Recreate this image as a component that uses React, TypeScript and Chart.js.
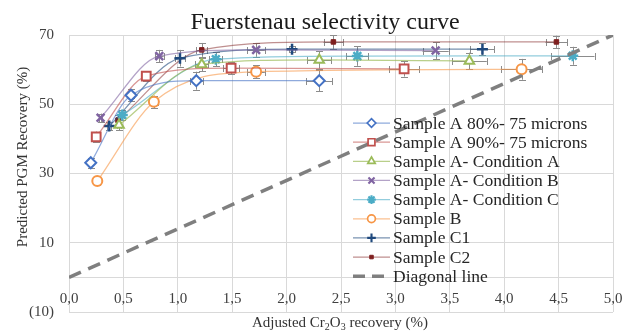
import React, { useEffect, useRef } from 'react';
import { Chart, registerables } from 'chart.js';
import { drawPoint } from 'chart.js/helpers';

Chart.register(...registerables);

// ---------- data ----------
const chartTitle = 'Fuerstenau selectivity curve';
const yAxisTitle = 'Predicted PGM Recovery (%)';
const xTicks = [0, 0.5, 1, 1.5, 2, 2.5, 3, 3.5, 4, 4.5, 5];
const yTicks = [-10, 10, 30, 50, 70];

const seriesNames = [
  'Sample A 80%- 75 microns',
  'Sample A 90%- 75 microns',
  'Sample A- Condition A',
  'Sample A- Condition B',
  'Sample A- Condition C',
  'Sample B',
  'Sample C1',
  'Sample C2',
];
const diagonalName = 'Diagonal line';

const a80X = [0.2, 0.57, 1.17, 2.3];
const a80Y = [33.1, 52.6, 56.8, 56.8];
const a80ErrX = [0.01, 0.03, 0.06, 0.12];
const a80ErrY = [1.5, 1.8, 2.6, 3.0];

const a90X = [0.25, 0.71, 1.49, 3.08];
const a90Y = [40.6, 58.1, 60.4, 60.2];
const a90ErrX = [0.01, 0.03, 0.07, 0.14];
const a90ErrY = [1.5, 1.5, 1.8, 2.2];

const condAX = [0.46, 1.22, 2.3, 3.68];
const condAY = [44.0, 61.5, 62.8, 62.5];
const condAErrX = [0.02, 0.06, 0.11, 0.16];
const condAErrY = [1.5, 2.0, 2.5, 2.4];

const condBX = [0.29, 0.83, 1.72, 3.37];
const condBY = [46.1, 63.9, 65.7, 65.5];
const condBErrX = [0.01, 0.04, 0.08, 0.12];
const condBErrY = [1.2, 1.8, 2.0, 2.4];

const condCX = [0.49, 1.35, 2.65, 4.63];
const condCY = [46.9, 63.0, 63.9, 64.0];
const condCErrX = [0.02, 0.06, 0.1, 0.2];
const condCErrY = [1.5, 2.0, 2.8, 2.6];

const sampleBX = [0.26, 0.78, 1.72, 4.16];
const sampleBY = [27.8, 50.7, 59.4, 60.1];
const sampleBErrX = [0.01, 0.04, 0.08, 0.19];
const sampleBErrY = [1.2, 1.8, 1.8, 3.0];

const c1X = [0.37, 1.02, 2.05, 3.8];
const c1Y = [43.7, 63.3, 65.9, 65.9];
const c1ErrX = [0.02, 0.05, 0.03, 0.11];
const c1ErrY = [1.2, 2.4, 0.8, 1.7];

const c2X = [0.45, 1.22, 2.43, 4.48];
const c2Y = [45.4, 65.7, 68.0, 68.0];
const c2ErrX = [0.02, 0.05, 0.09, 0.1];
const c2ErrY = [1.5, 2.0, 2.0, 1.8];

const diagonalX = [0, 5];
const diagonalY = [0, 70];

// ---------- styles ----------
const FONT = "'Liberation Serif', 'DejaVu Serif', serif";
const seriesStyle = [
  { color: '#4472C4', line: 'rgba(68,114,196,0.6)', style: 'rectRot', radius: 5.5, fill: '#FFFFFF', bw: 2 },
  { color: '#C0504D', line: 'rgba(192,80,77,0.6)', style: 'rect', radius: 6.2, fill: '#FFFFFF', bw: 2 },
  { color: '#9BBB59', line: 'rgba(155,187,89,0.7)', style: 'triangle', radius: 5.5, fill: '#FFFFFF', bw: 2 },
  { color: '#8064A2', line: 'rgba(128,100,162,0.6)', style: 'crossRot', radius: 5.5, fill: '#8064A2', bw: 2.5 },
  { color: '#4BACC6', line: 'rgba(75,172,198,0.6)', style: 'star', radius: 5.5, fill: '#4BACC6', bw: 2.5 },
  { color: '#F79646', line: 'rgba(247,150,70,0.6)', style: 'circle', radius: 5, fill: '#FFFFFF', bw: 2 },
  { color: '#1F497D', line: 'rgba(31,73,125,0.6)', style: 'cross', radius: 5.5, fill: '#1F497D', bw: 2.5 },
  { color: '#7F1F1F', line: 'rgba(127,31,31,0.5)', style: 'rect', radius: 3.2, fill: '#7F1F1F', bw: 1 },
];
const legendMarkerScale = 0.78;

const seriesData = [
  [a80X, a80Y, a80ErrX, a80ErrY],
  [a90X, a90Y, a90ErrX, a90ErrY],
  [condAX, condAY, condAErrX, condAErrY],
  [condBX, condBY, condBErrX, condBErrY],
  [condCX, condCY, condCErrX, condCErrY],
  [sampleBX, sampleBY, sampleBErrX, sampleBErrY],
  [c1X, c1Y, c1ErrX, c1ErrY],
  [c2X, c2Y, c2ErrX, c2ErrY],
];

const fmtNum = (v: number) => {
  if (v < 0) return '(' + Math.abs(v).toString() + ')';
  return v.toString();
};
const fmtX = (v: number) => v.toFixed(1).replace('.', ',');

const errorBarPlugin = {
  id: 'errorBars',
  beforeDatasetsDraw(chart: any) {
    const { ctx, chartArea, scales } = chart;
    const xs = scales.x;
    const ys = scales.y;
    ctx.save();
    ctx.beginPath();
    ctx.rect(chartArea.left, chartArea.top - 10, chartArea.right - chartArea.left + 10, chartArea.bottom - chartArea.top + 10);
    ctx.clip();
    ctx.strokeStyle = '#8C8C8C';
    ctx.lineWidth = 1;
    const cap = 3.5;
    chart.data.datasets.forEach((ds: any) => {
      if (!ds.errX) return;
      ds.data.forEach((p: any, i: number) => {
        const px = Math.round(xs.getPixelForValue(p.x)) + 0.5;
        const py = Math.round(ys.getPixelForValue(p.y)) + 0.5;
        const x1 = xs.getPixelForValue(p.x - ds.errX[i]);
        const x2 = xs.getPixelForValue(p.x + ds.errX[i]);
        const y1 = ys.getPixelForValue(p.y + ds.errY[i]);
        const y2 = ys.getPixelForValue(p.y - ds.errY[i]);
        ctx.beginPath();
        ctx.moveTo(x1, py); ctx.lineTo(x2, py);
        ctx.moveTo(Math.round(x1) + 0.5, py - cap); ctx.lineTo(Math.round(x1) + 0.5, py + cap);
        ctx.moveTo(Math.round(x2) + 0.5, py - cap); ctx.lineTo(Math.round(x2) + 0.5, py + cap);
        ctx.moveTo(px, y1); ctx.lineTo(px, y2);
        ctx.moveTo(px - cap, Math.round(y1) + 0.5); ctx.lineTo(px + cap, Math.round(y1) + 0.5);
        ctx.moveTo(px - cap, Math.round(y2) + 0.5); ctx.lineTo(px + cap, Math.round(y2) + 0.5);
        ctx.stroke();
      });
    });
    ctx.restore();
  },
};

const textPlugin = {
  id: 'texts',
  afterDraw(chart: any) {
    const { ctx } = chart;
    ctx.save();
    // title
    ctx.fillStyle = '#1A1A1A';
    ctx.font = `24px ${FONT}`;
    ctx.textAlign = 'center';
    ctx.textBaseline = 'alphabetic';
    ctx.fillText(chartTitle, 325, 29);

    // y title
    ctx.save();
    ctx.translate(23, 157);
    ctx.rotate(-Math.PI / 2);
    ctx.font = `15px ${FONT}`;
    ctx.fillStyle = '#333333';
    ctx.textAlign = 'center';
    ctx.textBaseline = 'middle';
    ctx.fillText(yAxisTitle, 0, 0);
    ctx.restore();

    // x title with subscripts
    const parts: [string, boolean][] = [['Adjusted Cr', false], ['2', true], ['O', false], ['3', true], [' recovery (%)', false]];
    const big = `15px ${FONT}`;
    const small = `10px ${FONT}`;
    let total = 0;
    parts.forEach(([t, sub]) => { ctx.font = sub ? small : big; total += ctx.measureText(t).width; });
    let xx = 340 - total / 2;
    ctx.fillStyle = '#333333';
    ctx.textAlign = 'left';
    ctx.textBaseline = 'alphabetic';
    parts.forEach(([t, sub]) => {
      ctx.font = sub ? small : big;
      ctx.fillText(t, xx, sub ? 330 : 327);
      xx += ctx.measureText(t).width;
    });

    // legend
    const lx0 = 353;
    const lx1 = 390;
    const mx = 371.5;
    const tx = 393;
    const y0 = 123;
    const dy = 19.15;
    seriesNames.forEach((name, i) => {
      const s = seriesStyle[i];
      const yy = y0 + i * dy;
      ctx.save();
      ctx.strokeStyle = s.line;
      ctx.lineWidth = 1.25;
      ctx.beginPath();
      ctx.moveTo(lx0, yy); ctx.lineTo(lx1, yy);
      ctx.stroke();
      ctx.strokeStyle = s.color;
      ctx.fillStyle = s.fill;
      const bw = Math.max(1, s.bw * 0.85);
      ctx.lineWidth = bw;
      drawPoint(ctx, { pointStyle: s.style, radius: s.radius * legendMarkerScale, borderWidth: bw, rotation: 0 } as any, mx, yy);
      ctx.restore();
      ctx.fillStyle = '#262626';
      ctx.font = `17.5px ${FONT}`;
      ctx.textAlign = 'left';
      ctx.textBaseline = 'middle';
      ctx.fillText(name, tx, yy + 1);
    });
    const yd = y0 + seriesNames.length * dy;
    ctx.save();
    ctx.strokeStyle = '#7F7F7F';
    ctx.lineWidth = 3.5;
    ctx.setLineDash([12, 7]);
    ctx.beginPath();
    ctx.moveTo(lx0, yd); ctx.lineTo(lx1 - 6, yd);
    ctx.stroke();
    ctx.restore();
    ctx.fillStyle = '#262626';
    ctx.font = `17.5px ${FONT}`;
    ctx.textBaseline = 'middle';
    ctx.fillText(diagonalName, tx, yd + 1);
    ctx.restore();
  },
};

export default function App() {
  const ref = useRef<HTMLCanvasElement | null>(null);
  useEffect(() => {
    if (!ref.current) return;
    const datasets: any[] = seriesData.map((d, i) => {
      const s = seriesStyle[i];
      const [xs, ys, ex, ey] = d as number[][];
      return {
        label: seriesNames[i],
        data: xs.map((x, j) => ({ x, y: ys[j] })),
        errX: ex,
        errY: ey,
        showLine: true,
        borderColor: s.line,
        borderWidth: 1.25,
        cubicInterpolationMode: 'monotone',
        pointStyle: s.style,
        pointRadius: s.radius,
        pointBorderWidth: s.bw,
        pointBorderColor: s.color,
        pointBackgroundColor: s.fill,
        pointHoverRadius: s.radius,
        order: 1,
      };
    });
    datasets.push({
      label: diagonalName,
      data: diagonalX.map((x, j) => ({ x, y: diagonalY[j] })),
      showLine: true,
      borderColor: '#7F7F7F',
      borderWidth: 3.5,
      borderDash: [13, 8],
      pointRadius: 0,
      order: 0,
    });

    const chart = new Chart(ref.current, {
      type: 'scatter',
      data: { datasets },
      options: {
        animation: false,
        responsive: false,
        devicePixelRatio: 1,
        layout: { padding: { left: 0, right: 11, top: 35, bottom: 19 } },
        plugins: { legend: { display: false }, title: { display: false }, tooltip: { enabled: false } },
        scales: {
          x: {
            type: 'linear',
            min: 0,
            max: 5,
            position: { y: 0 } as any,
            afterBuildTicks: (scale: any) => { scale.ticks = xTicks.map((v) => ({ value: v })); },
            afterFit: (scale: any) => { scale.paddingLeft = 0; scale.paddingRight = 0; scale.paddingTop = 0; scale.paddingBottom = 0; },
            grid: { color: '#D9D9D9', lineWidth: 1, drawTicks: false },
            border: { display: true, color: '#D9D9D9', width: 1 },
            ticks: {
              font: { family: FONT, size: 15 },
              color: '#404040',
              padding: 13,
              maxRotation: 0,
              autoSkip: false,
              callback: (v: any) => fmtX(Number(v)),
            },
          },
          y: {
            type: 'linear',
            min: -10,
            max: 70,
            afterBuildTicks: (scale: any) => { scale.ticks = yTicks.map((v) => ({ value: v })); },
            afterFit: (scale: any) => { scale.width = 69; scale.paddingTop = 0; scale.paddingBottom = 0; },
            grid: { color: '#D9D9D9', lineWidth: 1, drawTicks: false },
            border: { display: false },
            ticks: {
              font: { family: FONT, size: 15 },
              color: '#404040',
              padding: 15,
              autoSkip: false,
              callback: (v: any) => fmtNum(Number(v)),
            },
          },
        },
      },
      plugins: [errorBarPlugin, textPlugin],
    } as any);
    return () => chart.destroy();
  }, []);
  return (
    <div style={{ position: 'fixed', left: 0, top: 0, width: 624, height: 331, background: '#FFFFFF' }}>
      <canvas ref={ref} width={624} height={331} style={{ display: 'block', width: 624, height: 331 }} />
    </div>
  );
}
